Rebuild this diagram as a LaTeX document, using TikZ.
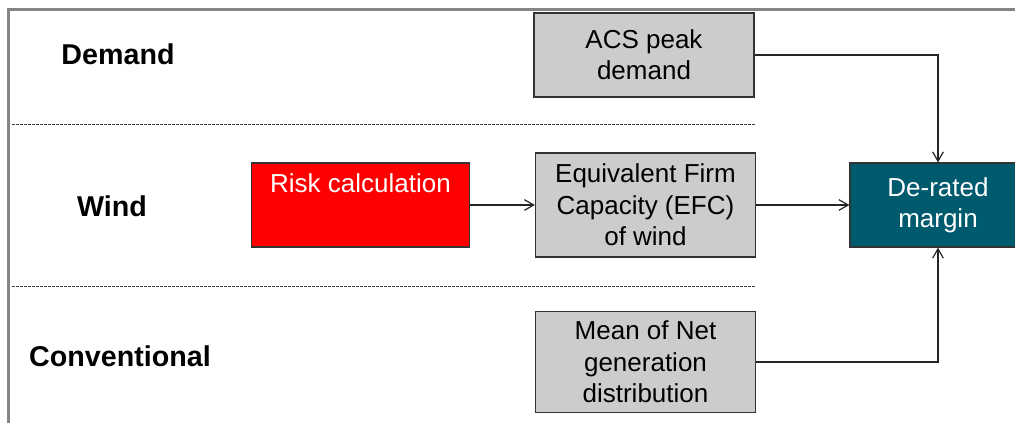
\documentclass[tikz,border=0pt]{standalone}
\usepackage{fontspec}
\setmainfont{Liberation Sans}
\usepackage{tikz}
\usetikzlibrary{arrows.meta,positioning}
\definecolor{boxgray}{HTML}{CCCCCC}
\definecolor{derated}{HTML}{005A6E}
\definecolor{framegray}{HTML}{858585}

\begin{document}
\begin{tikzpicture}[x=0.75pt,y=-0.75pt,
  rowlab/.style={font=\fontsize{21.5}{25}\selectfont\bfseries,inner sep=0pt},
  greybox/.style={draw=black!80,line width=0.9pt,fill=boxgray,minimum width=165pt,
               font=\fontsize{19.5}{23.5}\selectfont,align=center,inner sep=0pt},
  riskbox/.style={draw=black!80,line width=0.9pt,fill=red,text=white,minimum width=164pt,
               font=\fontsize{19.5}{23.5}\selectfont,inner sep=0pt,
               text height=22.5pt,text depth=40.5pt},
  marginbox/.style={draw=black!80,line width=0.9pt,fill=derated,text=white,minimum width=132pt,
               minimum height=63pt,font=\fontsize{19.5}{23.5}\selectfont,align=center,inner sep=0pt},
  sep/.style={black!75,line width=0.6pt,dash pattern=on 2.2pt off 0.8pt},
  arr/.style={-{Straight Barb[length=7pt,width=8pt]},black!85,line width=0.9pt}]
\useasboundingbox (0,0) rectangle (1015,423);
% frame and row separators
\draw[framegray,line width=2pt] (8.5,423) -- (8.5,9.5) -- (1015,9.5);
\draw[sep] (12,124.5) -- (755,124.5);
\draw[sep] (12,286) -- (755,286);
% row labels
\node[rowlab] (demand) at (118,54)  {Demand};
\node[rowlab] (wind)   at (112,206) {Wind};
\node[rowlab] (conv)   at (120,356) {Conventional};
% boxes
\node[greybox,minimum height=63pt] (acs)  at (644,55)  {ACS peak\\demand};
\node[riskbox,anchor=base]         (risk) at (360.5,193) {Risk calculation};
\node[greybox,minimum height=78pt] (efc)  at (645.5,205) {Equivalent Firm\\Capacity (EFC)\\of wind};
\node[greybox,minimum height=76pt] (mean) at (645.5,362) {Mean of Net\\generation\\distribution};
\node[marginbox]                   (drm)  at (938,205) {De-rated\\margin};
% connectors
\draw[arr] (risk) -- (efc);
\draw[arr] (efc)  -- (drm);
\draw[arr] (acs)  -| (drm);
\draw[arr] (mean) -| (drm);
\end{tikzpicture}
\end{document}
